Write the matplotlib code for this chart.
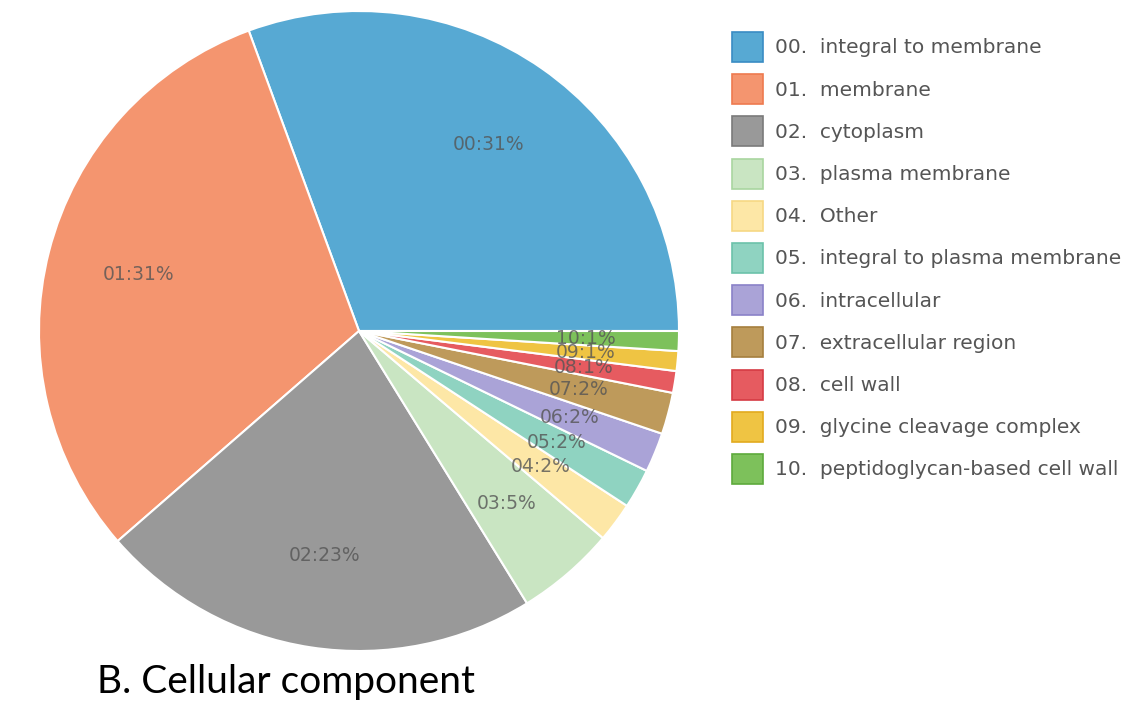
import matplotlib.pyplot as plt
from matplotlib.patches import Patch

# Cellular component share (percent)
categories = ['integral to membrane', 'membrane', 'cytoplasm', 'plasma membrane', 'Other',
              'integral to plasma membrane', 'intracellular', 'extracellular region',
              'cell wall', 'glycine cleavage complex', 'peptidoglycan-based cell wall']
values = [30.6, 30.8, 22.4, 5.0, 2.0, 2.0, 2.0, 2.1, 1.1, 1.0, 1.0]
pct_labels = ['31%', '31%', '23%', '5%', '2%', '2%', '2%', '2%', '1%', '1%', '1%']
colours = ['#57a9d3', '#f4956f', '#999999', '#c9e5c2', '#fde7a6', '#8fd3c1',
           '#aaa3d7', '#be9a5b', '#e65b60', '#efc443', '#7dc15b']
edge_colours = ['#3a8cc4', '#ee7a4f', '#7a7a7a', '#a9d6a0', '#f6d884', '#6cc2aa',
                '#8a82c8', '#a57f3e', '#d63b44', '#e2aa1e', '#5daa3c']

W, H = 1144, 705
fig = plt.figure(figsize=(W / 100, H / 100), dpi=100)
ax = fig.add_axes([0, 0, 1, 1])

slice_labels = ['%02d:%s' % (i, p) for i, p in enumerate(pct_labels)]
wedges, texts = ax.pie(values, colors=colours, startangle=0, counterclock=True,
                       center=(359, H - 331), radius=320, frame=True,
                       labels=slice_labels, labeldistance=0.71,
                       wedgeprops=dict(edgecolor='white', linewidth=1.5),
                       textprops=dict(fontsize=13.5, color='#555555', alpha=0.8,
                                      family='DejaVu Sans'))
for t in texts:
    t.set_horizontalalignment('center')
    t.set_verticalalignment('center')

# pie() rescales the axes, so pin them back to pixel units afterwards
ax.set_xlim(0, W)
ax.set_ylim(0, H)
ax.set_aspect('equal')
ax.axis('off')

handles = [Patch(facecolor=c, edgecolor=e, linewidth=1.2) for c, e in zip(colours, edge_colours)]
legend_labels = ['%02d.  %s' % (i, name) for i, name in enumerate(categories)]
ax.legend(handles, legend_labels, loc='upper left',
          bbox_to_anchor=(732 / W, 1 - 32 / H), bbox_transform=fig.transFigure,
          frameon=False, fontsize=14.5, labelcolor='#555555',
          handlelength=1.54, handleheight=1.915, labelspacing=0.606,
          handletextpad=0.6, borderpad=0, borderaxespad=0)

fig.text(97 / W, 1 - 693 / H, 'B. Cellular component', fontsize=28,
         family=['Lato', 'DejaVu Sans'], color='black', ha='left', va='baseline')

fig.savefig('out.png', dpi=100, facecolor='white')
